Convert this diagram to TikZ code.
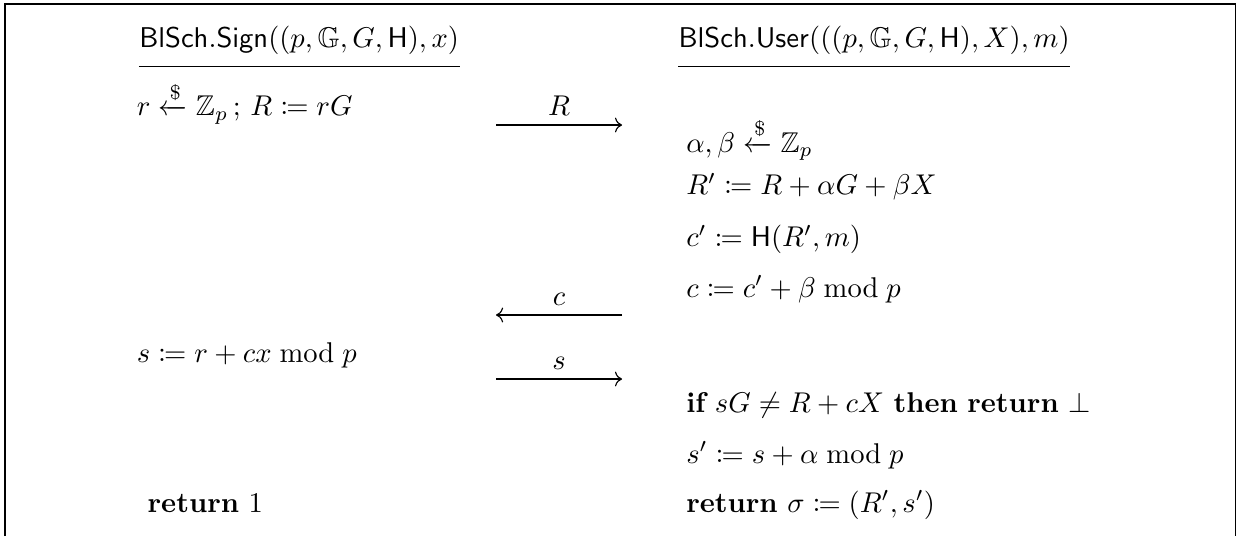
\documentclass[tikz,border=0pt]{standalone}
\usepackage{amsmath,amssymb,mathtools}
\usepackage{tikz}
\usetikzlibrary{arrows.meta, positioning}
\tikzstyle{head} = [anchor=base west, inner sep=0pt, text depth=6.7pt]
\tikzstyle{stmt} = [anchor=base west, inner sep=0pt]
\tikzstyle{arrow} = [-{To}, line width=0.4pt]
\tikzstyle{msg} = [above, inner sep=3pt]
\newcommand{\smpl}{\xleftarrow{\$}}

\begin{document}
\begin{tikzpicture}[scale=0.787]
    \useasboundingbox (0,0) rectangle (19.4,-8.38);
    \draw[line width=0.5pt] (0.08,-8.38) -- (0.08,-0.06) -- (19.31,-0.06) -- (19.31,-8.38);

    % signer
    \node[head] (signHead) at (2.17,-0.735) {$\mathsf{BlSch.Sign}((p,\mathbb{G},G,\mathsf{H}),x)$};
    \draw (signHead.south west) -- (signHead.south east);
    \node[stmt] (signR) at (2.13,-1.813) {$r \smpl \mathbb{Z}_p\,;\, R \coloneqq rG$};
    \node[stmt] (signS) at (2.13,-5.659) {$s \coloneqq r + cx \bmod p$};
    \node[stmt] (signRet) at (2.30,-8.004) {$\textbf{return}~1$};

    % user
    \node[head] (userHead) at (10.60,-0.735) {$\mathsf{BlSch.User}(((p,\mathbb{G},G,\mathsf{H}),X),m)$};
    \draw (userHead.south west) -- (userHead.south east);
    \node[stmt] (userAB) at (10.72,-2.376) {$\alpha,\beta \smpl \mathbb{Z}_p$};
    \node[stmt] (userRp) at (10.72,-3.048) {$R' \coloneqq R + \alpha G + \beta X$};
    \node[stmt] (userCp) at (10.72,-3.861) {$c' \coloneqq \mathsf{H}(R',m)$};
    \node[stmt] (userC) at (10.72,-4.643) {$c \coloneqq c' + \beta \bmod p$};
    \node[stmt] (userIf) at (10.72,-6.441) {$\textbf{if}~sG \neq R + cX~\textbf{then}~\textbf{return}~\bot$};
    \node[stmt] (userSp) at (10.72,-7.238) {$s' \coloneqq s + \alpha \bmod p$};
    \node[stmt] (userRet) at (10.72,-8.004) {$\textbf{return}~\sigma \coloneqq (R',s')$};

    % messages
    \coordinate (rA) at (7.754,-1.954);
    \coordinate (rB) at (9.724,-1.954);
    \coordinate (cA) at (7.754,-4.924);
    \coordinate (cB) at (9.724,-4.924);
    \coordinate (sA) at (7.754,-5.925);
    \coordinate (sB) at (9.724,-5.925);
    \draw[arrow] (rA) -- node[msg] (msgR) {$R$} (rB);
    \draw[arrow] (cB) -- node[msg] (msgC) {$c$} (cA);
    \draw[arrow] (sA) -- node[msg] (msgS) {$s$} (sB);
\end{tikzpicture}
\end{document}
